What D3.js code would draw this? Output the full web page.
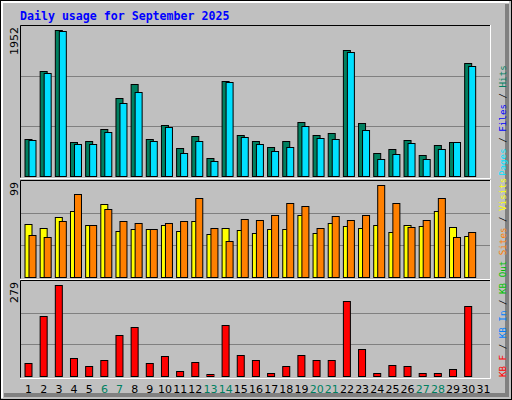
<!DOCTYPE html>
<html><head><meta charset="utf-8">
<script src="https://cdn.jsdelivr.net/npm/d3@7"></script>
<style>body{margin:0;background:#fff}</style>
</head><body>
<svg id="chart" width="512" height="400"></svg>
<script>
// daily values
const days = d3.range(1, 32);
const weekend = [6, 7, 13, 14, 20, 21, 27, 28];
const hits  = [487,1367,1897,436,449,617,1018,1199,487,668,358,526,229,1237,539,449,371,449,707,539,565,1638,694,294,345,462,268,397,436,1470];
const pages = [474,1341,1884,410,410,578,953,1095,449,643,294,449,190,1224,513,410,319,371,656,500,487,1612,604,216,281,423,216,345,436,1431];
const visits = [55,51,62,68,54,75,47,50,50,54,47,58,44,51,48,45,49,49,64,45,56,53,51,54,46,54,53,68,52,42];
const sites  = [43,41,58,86,54,70,58,56,49,56,58,81,51,37,60,59,64,76,73,51,63,59,64,95,76,52,59,81,41,46];
const kbytes = [39,177,267,54,30,48,121,144,39,60,16,42,7,150,62,48,10,30,62,48,48,220,80,10,33,30,10,10,21,206];
const maxHits = 1952, maxVisits = 99, maxKb = 279;

const svg = d3.select("#chart");
const mono = "'DejaVu Sans Mono', monospace";

// background + 3d border
svg.append("rect").attr("width", 512).attr("height", 400).attr("fill", "#c0c0c0");
svg.append("rect").attrs ? null : null;
svg.append("path").attr("d", "M507,4 L507,395 L4,395").attr("fill", "none").attr("stroke", "#808080").attr("stroke-width", 4);
svg.append("path").attr("d", "M2,398 L2,2 L509,2").attr("fill", "none").attr("stroke", "#fff").attr("stroke-width", 2);
svg.append("rect").attr("x", 0.5).attr("y", 0.5).attr("width", 511).attr("height", 399).attr("fill", "none").attr("stroke", "#000");

svg.append("text").attr("x", 20).attr("y", 20).attr("fill", "#0000ff")
  .attr("font-family", mono).attr("font-weight", "bold").attr("font-size", 11.6)
  .text("Daily usage for September 2025");

const x = d3.scaleBand().domain(days).range([20, 490]).paddingInner(0);
const xl = d => x(d) + 4.5;

const panels = [
  {top: 25, bottom: 177, max: maxHits, series: [[hits, "#008060"], [pages, "#00e0ff"]]},
  {top: 180, bottom: 278, max: maxVisits, series: [[visits, "#ffff00"], [sites, "#ff8000"]]},
  {top: 280, bottom: 377, max: maxKb, series: [[kbytes, "#ff0000"]]}
];

panels.forEach(p => {
  const y = d3.scaleLinear().domain([0, p.max]).range([p.bottom - 1, p.top + 1]);
  svg.append("path").attr("d", `M${20.5},${p.bottom + 0.5} V${p.top + 0.5} H490.5`).attr("fill", "none").attr("stroke", "#000");
  svg.append("path").attr("d", `M20,${p.bottom + 1.5} H490.5 V${p.top}`).attr("fill", "none").attr("stroke", "#fff");
  [1 / 3, 2 / 3].forEach(f => {
    const gy = Math.round(y(p.max * f)) + 0.5;
    svg.append("line").attr("x1", 21).attr("x2", 490).attr("y1", gy).attr("y2", gy).attr("stroke", "#808080");
  });
  svg.append("text").attr("transform", `translate(18,${p.top + 2}) rotate(-90)`)
    .attr("text-anchor", "end").attr("font-family", "'DejaVu Sans', sans-serif").attr("font-size", 11)
    .text(p.max);
  p.series.forEach(([vals, col], si) => {
    const w = p.series.length === 1 ? 7 : 7;
    svg.append("g").selectAll("rect").data(vals).join("rect")
      .attr("x", (v, i) => xl(days[i]) + si * 4 + 0.5)
      .attr("y", v => Math.round(y(v)) + 0.5)
      .attr("width", w)
      .attr("height", v => p.bottom - 1 - Math.round(y(v)))
      .attr("fill", col).attr("stroke", "#000");
  });
});

// day labels
svg.append("g").selectAll("text").data(days).join("text")
  .attr("x", d => x(d) + x.bandwidth() / 2 + 1).attr("y", 393)
  .attr("text-anchor", "middle").attr("font-family", "'DejaVu Sans', sans-serif").attr("font-size", 11)
  .attr("fill", d => weekend.includes(d) ? "#008060" : "#000")
  .text(d => d);

// right legends
function legend(yStart, parts) {
  const t = svg.append("text").attr("transform", `translate(506,${yStart}) rotate(-90)`)
    .attr("font-family", mono).attr("font-size", 9.2);
  parts.forEach(([s, c]) => t.append("tspan").attr("fill", c).text(s));
}
legend(176, [["Pages", "#00e0ff"], [" / ", "#000"], ["Files", "#0000ff"], [" / ", "#000"], ["Hits", "#008060"]]);
legend(377, [["KB F", "#ff0000"], [" / ", "#000"], ["KB In", "#0080ff"], [" / ", "#000"], ["KB Out", "#00c000"], [" ", "#000"],
  ["Sites", "#ff8000"], [" / ", "#000"], ["Visits", "#ffff00"]]);
</script>
</body></html>
